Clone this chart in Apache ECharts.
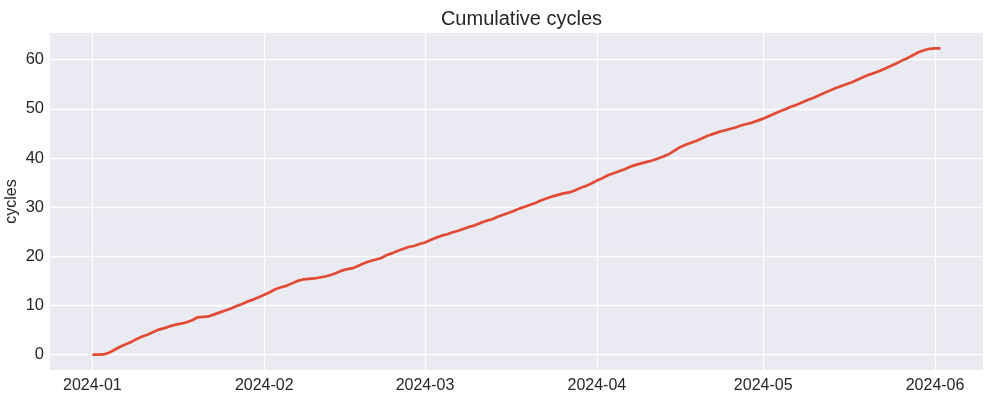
<!DOCTYPE html>
<html>
<head>
<meta charset="utf-8">
<script src="https://cdn.jsdelivr.net/npm/echarts@6/dist/echarts.min.js"></script>
<style>
html,body{margin:0;padding:0;background:#fff;}
#chart{width:993px;height:393px;}
</style>
</head>
<body>
<div id="chart"></div>
<script>
// Series start date (one value per day from here)
const startDate = [2024, 0, 1];
// Cumulative cycles, one reading per day from 2024-01-01 to 2024-06-02
const cycles = [
  0, 0, 0.05, 0.4, 1.0, 1.6, 2.1, 2.6, 3.2, 3.7,
  4.1, 4.6, 5.1, 5.4, 5.8, 6.1, 6.3, 6.6, 7.0, 7.6,
  7.7, 7.8, 8.2, 8.6, 9.0, 9.4, 9.9, 10.3, 10.8, 11.2,
  11.7, 12.2, 12.7, 13.3, 13.7, 14.0, 14.5, 15.0, 15.3, 15.4,
  15.5, 15.7, 15.9, 16.2, 16.6, 17.1, 17.4, 17.6, 18.1, 18.6,
  19.0, 19.3, 19.6, 20.2, 20.6, 21.1, 21.5, 21.9, 22.1, 22.5,
  22.8, 23.3, 23.8, 24.2, 24.5, 24.9, 25.2, 25.6, 26.0, 26.3,
  26.8, 27.2, 27.5, 28.0, 28.4, 28.8, 29.2, 29.7, 30.1, 30.5,
  30.9, 31.4, 31.8, 32.2, 32.5, 32.8, 33.0, 33.4, 33.9, 34.3,
  34.8, 35.4, 35.9, 36.5, 36.9, 37.3, 37.7, 38.2, 38.6, 38.9,
  39.2, 39.5, 39.9, 40.3, 40.8, 41.5, 42.2, 42.7, 43.1, 43.5,
  44.0, 44.5, 44.9, 45.3, 45.6, 45.9, 46.2, 46.6, 46.9, 47.2,
  47.6, 48.0, 48.5, 49.0, 49.5, 49.9, 50.4, 50.8, 51.3, 51.8,
  52.2, 52.7, 53.2, 53.7, 54.2, 54.6, 55.0, 55.4, 55.9, 56.4,
  56.9, 57.3, 57.7, 58.2, 58.7, 59.2, 59.8, 60.3, 60.9, 61.5,
  61.9, 62.2, 62.3, 62.3
];
// X tick labels (month starts)
const monthTicks = ['2024-01-01', '2024-02-01', '2024-03-01', '2024-04-01', '2024-05-01', '2024-06-01'];
// Y tick labels
const yTicks = [0, 10, 20, 30, 40, 50, 60];
const titleText = 'Cumulative cycles';
const yName = 'cycles';

const DAY = 86400000;
const t0 = new Date(startDate[0], startDate[1], startDate[2]).getTime();
const data = cycles.map((v, i) => [t0 + i * DAY, v]);
const tEnd = t0 + (cycles.length - 1) * DAY;
const xPad = (tEnd - t0) * 0.05;
const yMinD = Math.min(...cycles), yMaxD = Math.max(...cycles);
const yPad = (yMaxD - yMinD) * 0.05;
const tickTimes = monthTicks.map(s => { const p = s.split('-').map(Number); return new Date(p[0], p[1] - 1, p[2]).getTime(); });

const chart = echarts.init(document.getElementById('chart'), null, {renderer: 'canvas'});
const font = 'Liberation Sans, Arial, sans-serif';
chart.setOption({
  animation: false,
  backgroundColor: '#ffffff',
  title: {
    text: titleText,
    left: 516.5, top: 4,
    textAlign: 'center',
    textStyle: {fontFamily: font, fontSize: 20, fontWeight: 'normal', color: '#262626'}
  },
  grid: {left: 50, right: 10, top: 33, bottom: 23, show: true, backgroundColor: '#EAEAF2', borderWidth: 0, outerBoundsMode: 'none', containLabel: false},
  xAxis: {
    type: 'value',
    min: t0 - xPad,
    max: tEnd + xPad,
    axisLine: {show: false},
    axisTick: {show: false, customValues: tickTimes},
    axisLabel: {
      customValues: tickTimes,
      formatter: v => { const d = new Date(v); return d.getFullYear() + '-' + String(d.getMonth() + 1).padStart(2, '0'); },
      fontFamily: font, fontSize: 16, color: '#262626', margin: 8
    },
    splitLine: {show: false}
  },
  yAxis: {
    type: 'value',
    min: +(yMinD - yPad).toFixed(3),
    max: +(yMaxD + yPad).toFixed(3),
    name: yName,
    nameLocation: 'middle',
    nameGap: 30,
    nameMoveOverlap: false,
    nameTextStyle: {fontFamily: font, fontSize: 16, color: '#262626'},
    axisLine: {show: false},
    axisTick: {show: false, customValues: yTicks},
    axisLabel: {customValues: yTicks, fontFamily: font, fontSize: 16.5, color: '#262626', margin: 6},
    splitLine: {show: false}
  },
  series: [
    {
      type: 'line',
      data: data,
      showSymbol: false,
      lineStyle: {color: '#E24A33', width: 2.7},
      z: 5,
      markLine: {
        silent: true,
        symbol: 'none',
        label: {show: false},
        lineStyle: {color: '#ffffff', width: 1.3, type: 'solid'},
        z: 1,
        data: tickTimes.map(t => ({xAxis: t})).concat(yTicks.map(v => ({yAxis: v})))
      }
    }
  ]
});
</script>
</body>
</html>
